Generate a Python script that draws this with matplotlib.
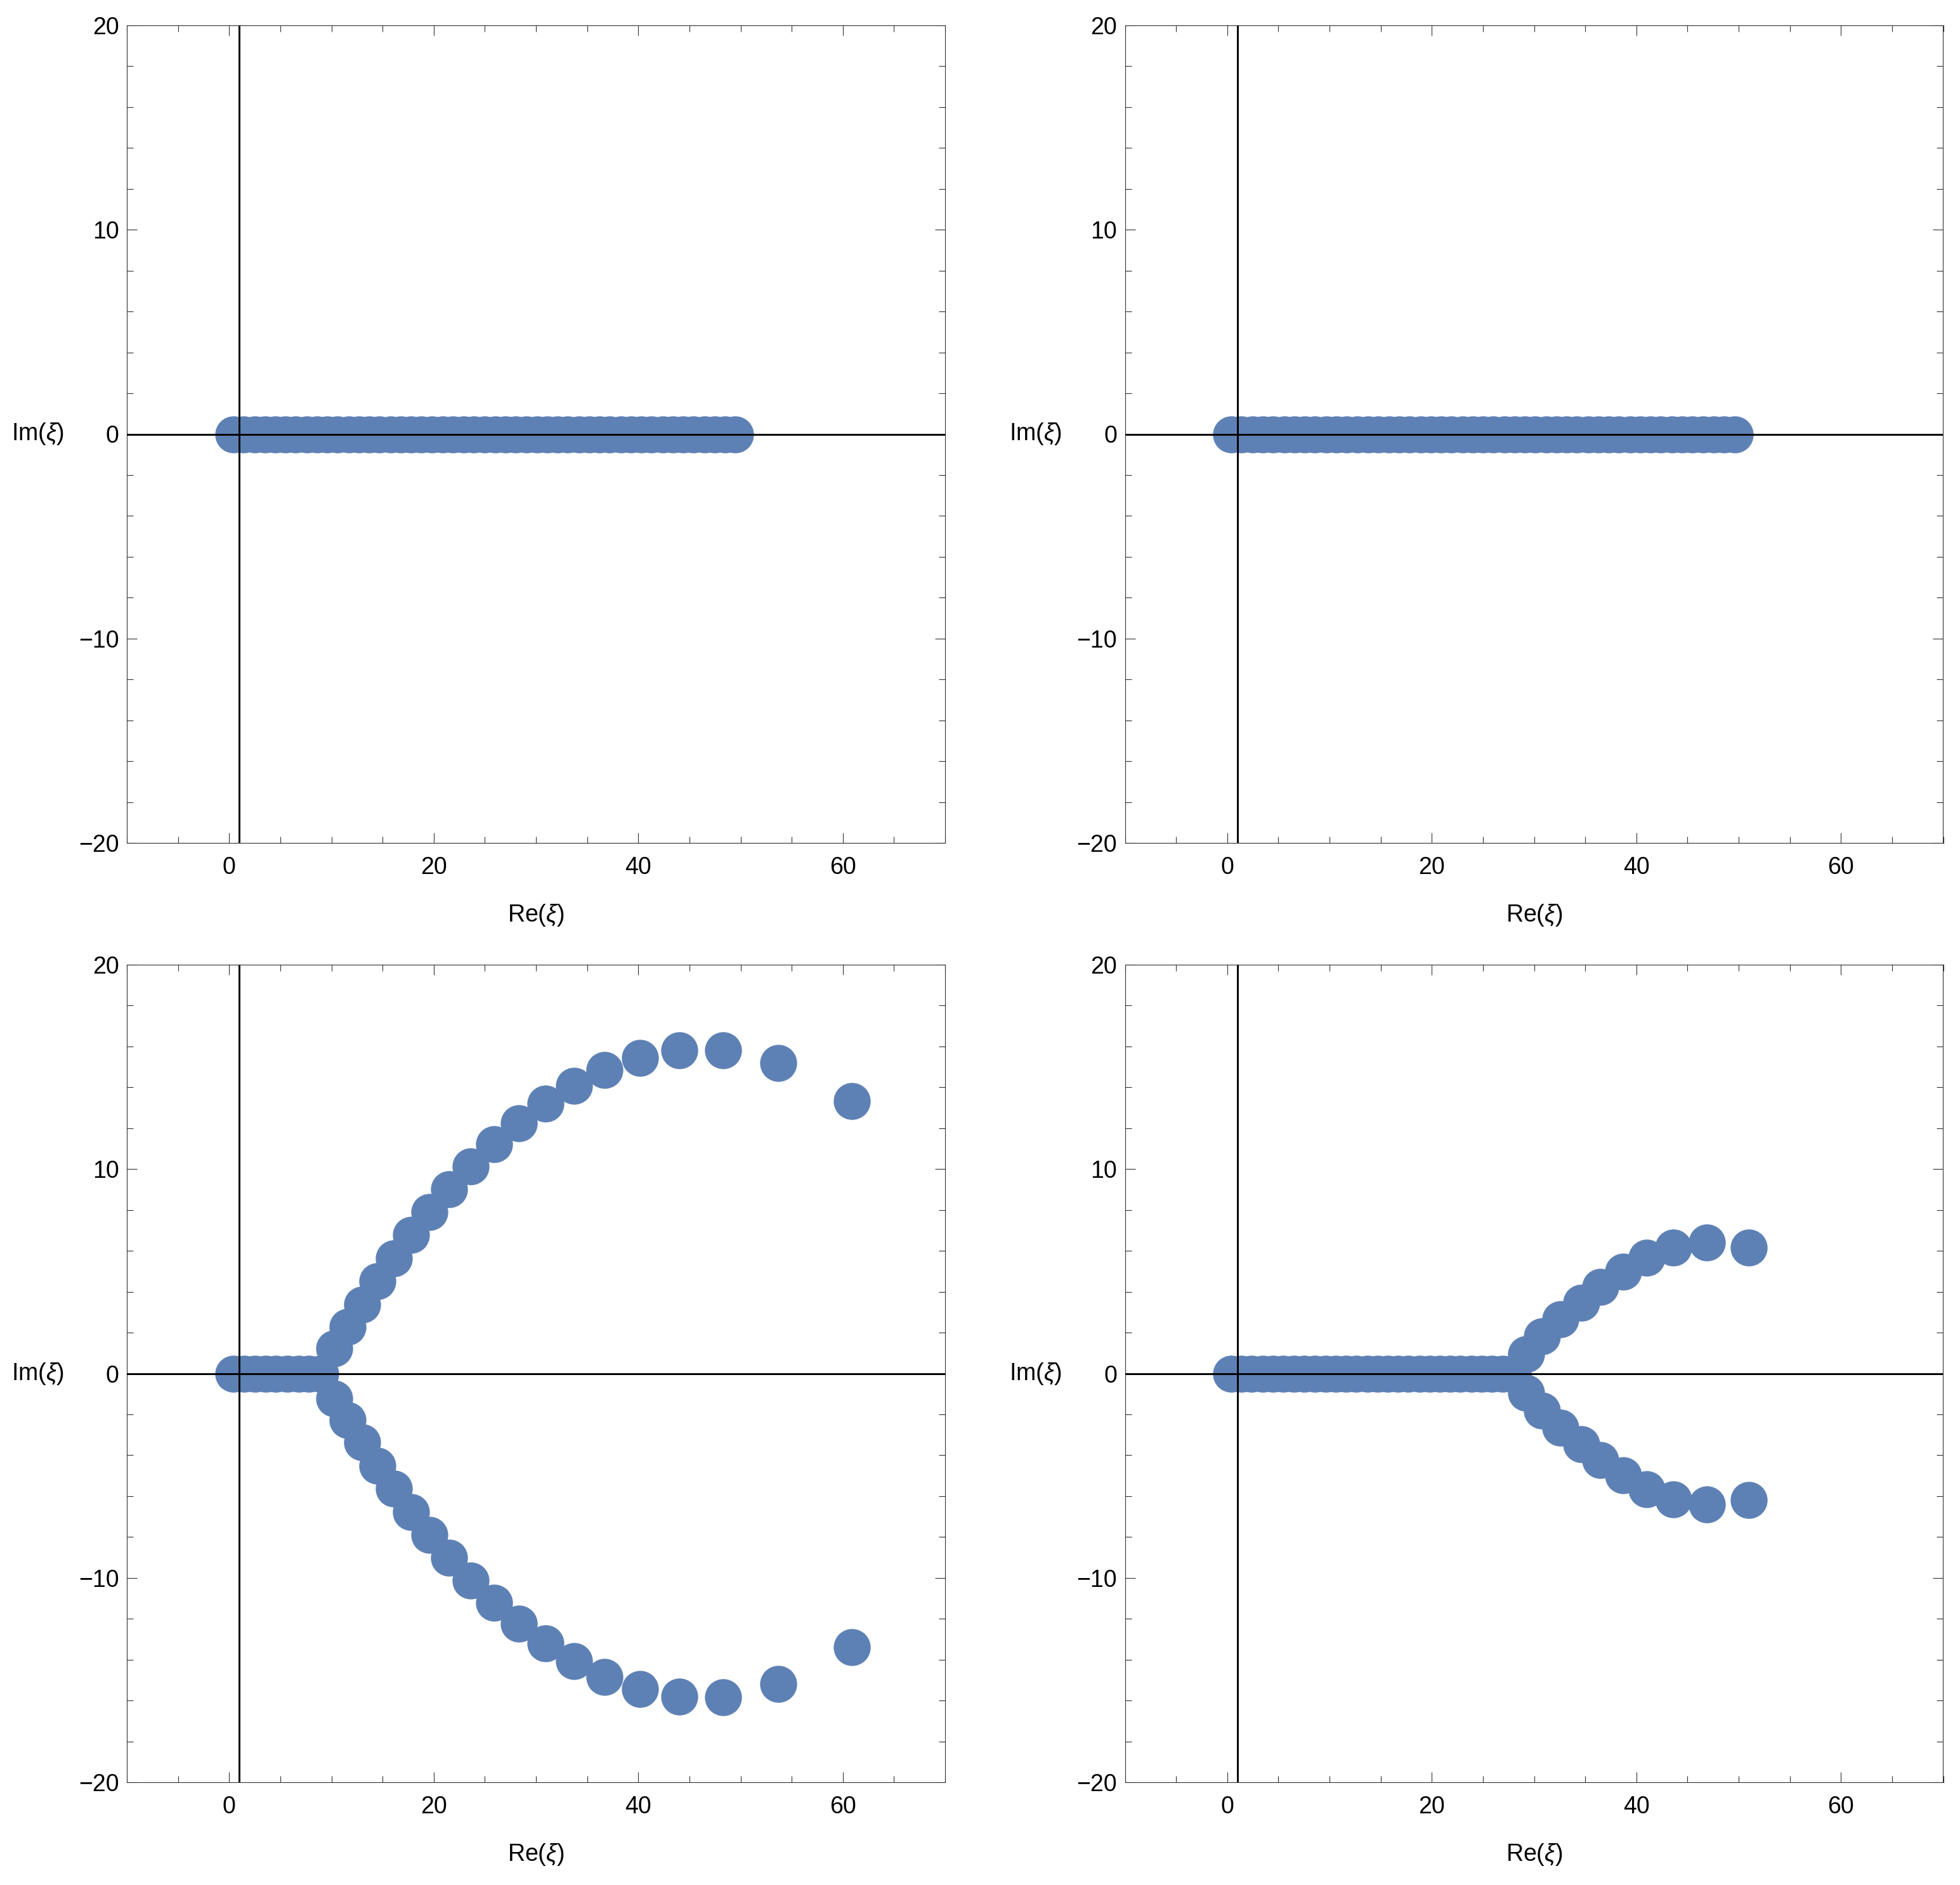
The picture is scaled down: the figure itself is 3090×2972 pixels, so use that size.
import matplotlib
matplotlib.use("Agg")
import matplotlib.pyplot as plt
from matplotlib.ticker import MultipleLocator

plt.rcParams['font.family'] = ['Liberation Sans', 'DejaVu Sans']
plt.rcParams['mathtext.fontset'] = 'custom'
plt.rcParams['mathtext.rm'] = 'Liberation Sans'
plt.rcParams['mathtext.it'] = 'Liberation Sans:italic'

# top left: all points on the real axis
re_tl = [0.4, 1.4, 2.5, 3.5, 4.5, 5.5, 6.5, 7.6, 8.6, 9.6, 10.6, 11.7, 12.7,
         13.7, 14.7, 15.8, 16.8, 17.8, 18.8, 19.8, 20.9, 21.9, 22.9, 23.9,
         25.0, 26.0, 27.0, 28.0, 29.1, 30.1, 31.1, 32.1, 33.1, 34.2, 35.2,
         36.2, 37.2, 38.3, 39.3, 40.3, 41.3, 42.4, 43.4, 44.4, 45.4, 46.5,
         47.5, 48.5, 49.5]
im_tl = [0.0] * len(re_tl)

# top right: also all real
re_tr = [0.4, 1.4, 2.5, 3.5, 4.5, 5.6, 6.6, 7.6, 8.6, 9.7, 10.7, 11.7, 12.7,
         13.8, 14.8, 15.8, 16.8, 17.8, 18.9, 19.9, 20.9, 21.9, 23.0, 24.0,
         25.0, 26.0, 27.1, 28.1, 29.1, 30.1, 31.2, 32.2, 33.2, 34.2, 35.3,
         36.3, 37.3, 38.3, 39.4, 40.4, 41.4, 42.4, 43.5, 44.5, 45.5, 46.5,
         47.6, 48.6, 49.6]
im_tr = [0.0] * len(re_tr)

# bottom left: short real part, then two wide branches
re_bl_axis = [0.4, 1.5, 2.5, 3.6, 4.6, 5.7, 6.8, 7.8, 8.9]
re_bl_branch = [10.3, 11.6, 13.0, 14.5, 16.1, 17.8, 19.6, 21.5, 23.6, 25.9,
                28.3, 30.9, 33.7, 36.7, 40.2, 44.0, 48.3, 53.7, 60.9]
im_bl_upper = [1.24, 2.28, 3.38, 4.52, 5.64, 6.77, 7.91, 9.02, 10.14, 11.21,
               12.24, 13.21, 14.08, 14.85, 15.43, 15.8, 15.8, 15.18, 13.34]
im_bl_lower = [-1.24, -2.28, -3.38, -4.52, -5.64, -6.77, -7.91, -9.02, -10.14,
               -11.21, -12.24, -13.21, -14.08, -14.85, -15.43, -15.8, -15.85,
               -15.18, -13.4]

# bottom right: long real part, then two narrow branches
re_br_axis = [0.4, 1.4, 2.4, 3.5, 4.5, 5.5, 6.5, 7.5, 8.6, 9.6, 10.6, 11.6,
              12.6, 13.7, 14.7, 15.7, 16.7, 17.7, 18.8, 19.8, 20.8, 21.8,
              22.8, 23.9, 24.9, 25.9, 26.9, 27.9]
re_br_branch = [29.2, 30.8, 32.6, 34.6, 36.5, 38.7, 41.0, 43.6, 46.9, 51.0]
im_br_upper = [0.95, 1.81, 2.65, 3.47, 4.25, 4.97, 5.65, 6.17, 6.42, 6.15]
im_br_lower = [-0.95, -1.81, -2.65, -3.47, -4.25, -4.97, -5.65, -6.17, -6.42,
               -6.2]

dotColor = '#5E81B5'

fig = plt.figure(figsize=(30.9, 29.72), dpi=100)
w = 1290 / 3090
h = 1289 / 2972
rects = [[200 / 3090, 1643 / 2972, w, h],
         [1773.5 / 3090, 1643 / 2972, w, h],
         [200 / 3090, 162 / 2972, w, h],
         [1773.5 / 3090, 162 / 2972, w, h]]

panels = [
    [(re_tl, im_tl)],
    [(re_tr, im_tr)],
    [(re_bl_axis, [0.0] * len(re_bl_axis)), (re_bl_branch, im_bl_upper),
     (re_bl_branch, im_bl_lower)],
    [(re_br_axis, [0.0] * len(re_br_axis)), (re_br_branch, im_br_upper),
     (re_br_branch, im_br_lower)],
]

for rect, series in zip(rects, panels):
    ax = fig.add_axes(rect)
    for xs, ys in series:
        ax.plot(xs, ys, 'o', ms=42, mew=0, color=dotColor, zorder=2)
    # axes through the origin (Mathematica style)
    ax.axhline(0, color='black', lw=2.1, zorder=3)
    ax.axvline(1, color='black', lw=2.1, zorder=3)

    ax.set_xlim(-10, 70)
    ax.set_ylim(-20, 20)
    ax.set_xticks([0, 20, 40, 60])
    ax.set_yticks([-20, -10, 0, 10, 20])
    ax.xaxis.set_minor_locator(MultipleLocator(5))
    ax.yaxis.set_minor_locator(MultipleLocator(2))
    ax.tick_params(which='both', direction='in', top=True, right=True,
                   labeltop=False, labelright=False, width=0.8,
                   color='#333333', labelsize=27)
    ax.tick_params(which='major', length=11.5)
    ax.tick_params(which='minor', length=7)
    ax.tick_params(axis='x', pad=15)
    ax.tick_params(axis='y', pad=9)
    for sp in ax.spines.values():
        sp.set_linewidth(0.8)
        sp.set_color('#333333')

    ax.set_xlabel('Re($\\xi$)', fontsize=27)
    ax.xaxis.set_label_coords(0.5, -0.073)
    ax.xaxis.label.set_va('top')
    ax.set_ylabel('Im($\\xi$)', fontsize=27, rotation=0)
    ax.yaxis.set_label_coords(-0.077, 0.5)
    ax.yaxis.label.set_ha('right')
    ax.yaxis.label.set_va('center')

plt.savefig('out.png', dpi=100)
